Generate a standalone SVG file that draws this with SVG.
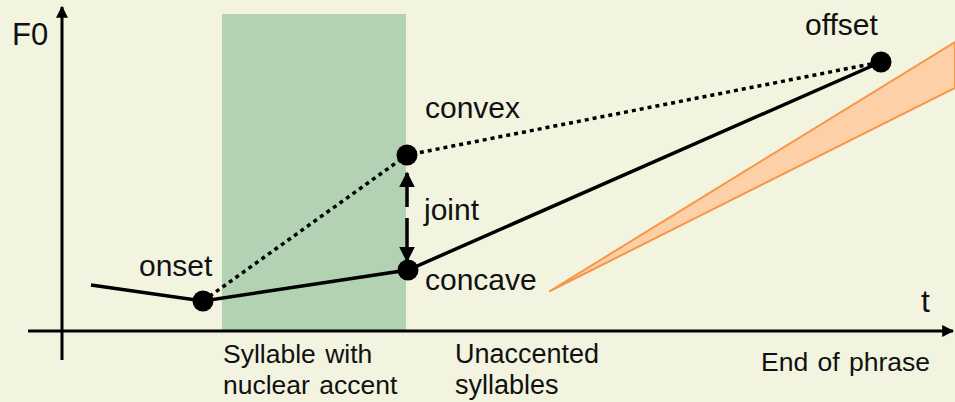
<svg xmlns="http://www.w3.org/2000/svg" width="955" height="402" viewBox="0 0 955 402">
<style>
text{font-family:"Liberation Sans",Arial,sans-serif;font-size:30px;fill:#111}
.sm{font-size:26.5px}
.solid{stroke:#000;stroke-width:3.5;fill:none}
.dot{stroke:#000;stroke-width:3.5;stroke-dasharray:4 4;fill:none}
.pt{fill:#000}
</style>
<defs>
<marker id="ah" viewBox="0 0 10 10" refX="9" refY="5" markerWidth="4" markerHeight="4" orient="auto-start-reverse"><path d="M0,0L10,5L0,10z" fill="#000"/></marker>
<marker id="ah2" viewBox="0 0 10 10" refX="9" refY="5" markerWidth="4.5" markerHeight="4.5" orient="auto"><path d="M0,0L10,5L0,10z" fill="#000"/></marker>
</defs>
<rect width="955" height="402" fill="#F2F4E0"/>
<rect x="222" y="14" width="184" height="317" fill="#B3D2B3"/>
<g id="orange"><polygon points="550,291 955,42 955,88" fill="#FDD0A8" stroke="#F79646" stroke-width="2" stroke-linejoin="round"/></g>
<g id="axes">
<line x1="62" y1="360" x2="62" y2="7" stroke="#000" stroke-width="3" marker-end="url(#ah)"/>
<line x1="28" y1="331" x2="953" y2="331" stroke="#000" stroke-width="3" marker-end="url(#ah)"/>
</g>
<g id="connectors">
<polyline class="solid" points="91,285 203,301 408,270 881,62"/>
<polyline class="dot" points="203,301 407,155 881,62"/>
<line x1="407" y1="207" x2="407" y2="173" stroke="#000" stroke-width="3.5" marker-end="url(#ah2)"/>
<line x1="407" y1="218" x2="407" y2="261" stroke="#000" stroke-width="3.5" marker-end="url(#ah2)"/>
</g>
<g id="onset"><circle class="pt" cx="203" cy="301" r="10.5"/><text x="139" y="276">onset</text></g>
<g id="convex"><circle class="pt" cx="407" cy="155" r="10.5"/><text x="425" y="118">convex</text></g>
<g id="concave"><circle class="pt" cx="408" cy="270" r="10.5"/><text x="425" y="290">concave</text></g>
<g id="offset"><circle class="pt" cx="881" cy="62" r="10.5"/><text x="805" y="35">offset</text></g>
<text x="424" y="220">joint</text>
<text x="12" y="45" style="font-size:31px">F0</text>
<text x="921" y="312" style="font-size:32px">t</text>
<text class="sm" x="223" y="363" word-spacing="2">Syllable with</text>
<text class="sm" x="223" y="394" word-spacing="2">nuclear accent</text>
<text class="sm" x="455" y="363" style="font-size:27px">Unaccented</text>
<text class="sm" x="455" y="394" style="font-size:27px">syllables</text>
<text class="sm" x="761" y="371" word-spacing="2">End of phrase</text>
</svg>
